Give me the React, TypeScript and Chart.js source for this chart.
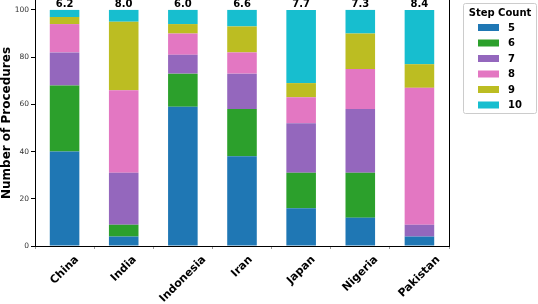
import React, { useEffect, useRef } from "react";
import { Chart, registerables } from "chart.js";

Chart.register(...registerables);

const countries = ["China", "India", "Indonesia", "Iran", "Japan", "Nigeria", "Pakistan"];
const stepLabels = ["5", "6", "7", "8", "9", "10"];
const steps5 = [40, 4, 59, 38, 16, 12, 4];
const steps6 = [28, 5, 14, 20, 15, 19, 0];
const steps7 = [14, 22, 8, 15, 21, 27, 5];
const steps8 = [12, 35, 9, 9, 11, 17, 58];
const steps9 = [3, 29, 4, 11, 6, 15, 10];
const steps10 = [3, 5, 6, 7, 31, 10, 23];
const meanLabels = ["6.2", "8.0", "6.0", "6.6", "7.7", "7.3", "8.4"];
const yTicks = [0, 20, 40, 60, 80, 100];
const colors = ["#1f77b4", "#2ca02c", "#9467bd", "#e377c2", "#bcbd22", "#17becf"];

const FONT = "'DejaVu Sans', sans-serif";

const overlayPlugin = {
  id: "overlay",
  afterDraw(chart: any) {
    const ctx = chart.ctx;
    const area = chart.chartArea;
    const xs = chart.scales.x;
    const ys = chart.scales.y;
    ctx.save();
    // right spine
    ctx.strokeStyle = "#000";
    ctx.lineWidth = 1;
    ctx.beginPath();
    ctx.moveTo(Math.round(area.right) + 0.5, area.top);
    ctx.lineTo(Math.round(area.right) + 0.5, area.bottom);
    ctx.stroke();
    // mean labels
    ctx.fillStyle = "#000";
    ctx.font = `bold 10px ${FONT}`;
    ctx.textAlign = "center";
    ctx.textBaseline = "bottom";
    const yTop = ys.getPixelForValue(100);
    meanLabels.forEach((lab, i) => {
      ctx.fillText(lab, xs.getPixelForValue(i), yTop - 1);
    });
    // x labels rotated 45, centered (matplotlib style)
    ctx.font = `bold 11px ${FONT}`;
    const y0 = area.bottom + 8;
    countries.forEach((lab, i) => {
      const w = ctx.measureText(lab).width;
      const h = 11;
      const bb = (w + h) * Math.SQRT1_2;
      const cx = xs.getPixelForValue(i);
      const cy = y0 + bb / 2;
      ctx.save();
      ctx.translate(cx, cy);
      ctx.rotate(-Math.PI / 4);
      ctx.textAlign = "center";
      ctx.textBaseline = "middle";
      ctx.fillText(lab, 0, 0);
      ctx.restore();
    });
    // legend
    const lx = 463.5, ly = 3.5, lw = 73, lh = 110;
    ctx.fillStyle = "rgba(255,255,255,0.8)";
    ctx.strokeStyle = "#cccccc";
    ctx.lineWidth = 1;
    ctx.beginPath();
    (ctx as any).roundRect ? (ctx as any).roundRect(lx, ly, lw, lh, 2) : ctx.rect(lx, ly, lw, lh);
    ctx.fill();
    ctx.stroke();
    ctx.fillStyle = "#000";
    ctx.font = `bold 10px ${FONT}`;
    ctx.textAlign = "center";
    ctx.textBaseline = "middle";
    ctx.fillText("Step Count", lx + lw / 2, 13);
    ctx.textAlign = "left";
    stepLabels.forEach((lab, i) => {
      const cy = 27.5 + i * 15.5;
      ctx.fillStyle = colors[i];
      ctx.fillRect(478, cy - 3.5, 21, 7);
      ctx.fillStyle = "#000";
      ctx.fillText(lab, 508, cy + 0.5);
    });
    ctx.restore();
  },
};

export default function App() {
  const ref = useRef<HTMLCanvasElement | null>(null);
  useEffect(() => {
    document.body.style.margin = "0";
    const series = [steps5, steps6, steps7, steps8, steps9, steps10];
    const chart = new Chart(ref.current as HTMLCanvasElement, {
      type: "bar",
      data: {
        labels: countries,
        datasets: series.map((d, i) => ({
          label: stepLabels[i],
          data: d,
          backgroundColor: colors[i],
          borderWidth: 0,
          barPercentage: 0.5,
          categoryPercentage: 1.0,
        })),
      },
      options: {
        animation: false,
        responsive: false,
        maintainAspectRatio: false,
        layout: { padding: { left: 0, right: 89, top: 0, bottom: 0 } },
        plugins: { legend: { display: false }, tooltip: { enabled: false } },
        scales: {
          x: {
            stacked: true,
            grid: { drawOnChartArea: false, drawTicks: true, tickLength: 3, color: "#999" },
            border: { display: true, color: "#000", width: 1 },
            ticks: { display: false },
            afterFit: (s: any) => {
              s.height = 58;
              s.paddingLeft = 0;
              s.paddingRight = 0;
            },
          },
          y: {
            stacked: true,
            min: 0,
            max: 104.2,
            afterBuildTicks: (s: any) => {
              s.ticks = yTicks.map((v) => ({ value: v }));
            },
            grid: { drawOnChartArea: false, drawTicks: true, tickLength: 4, color: "#000" },
            border: { display: true, color: "#000", width: 1 },
            ticks: {
              font: { family: FONT, size: 7.5 },
              color: "#333",
              padding: 2,
            },
            title: {
              display: true,
              text: "Number of Procedures",
              font: { family: FONT, size: 12, weight: "bold" },
              color: "#000",
              padding: { top: 0, bottom: 0 },
            },
            afterFit: (s: any) => {
              s.width = 35;
              s.paddingTop = 0;
              s.paddingBottom = 0;
            },
          },
        },
      },
      plugins: [overlayPlugin],
    });
    return () => chart.destroy();
  }, []);
  return (
    <div style={{ width: 538, height: 304 }}>
      <canvas ref={ref} width={538} height={304} style={{ display: "block" }} />
    </div>
  );
}
